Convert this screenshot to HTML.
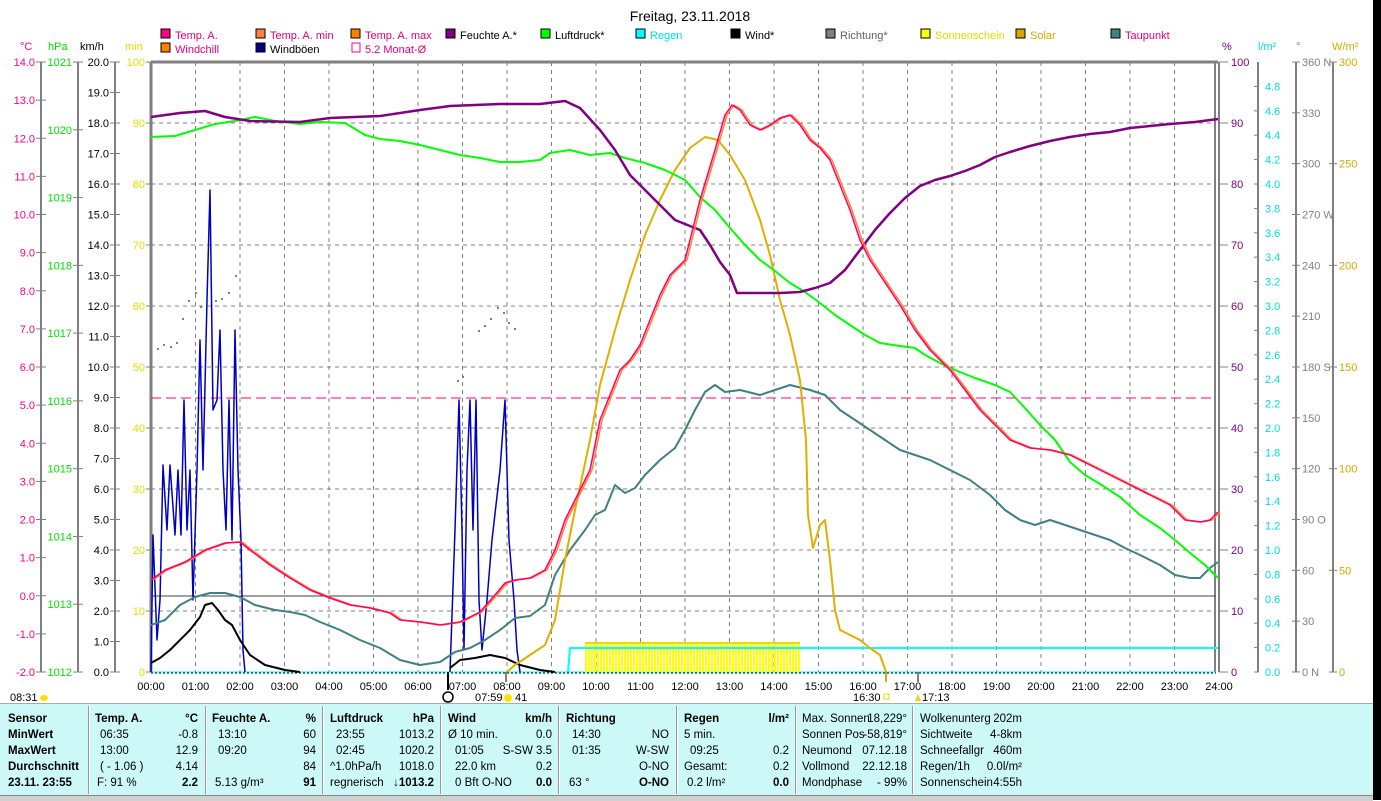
<!DOCTYPE html>
<html><head><meta charset="utf-8"><style>
body{margin:0;background:#fff;width:1381px;height:800px;overflow:hidden;position:relative;font-family:"Liberation Sans",sans-serif}
svg{position:absolute;left:0;top:0}
text{font-family:"Liberation Sans",sans-serif;font-size:11px}
#tbl{position:absolute;left:0;top:703px;width:1373px;height:92px;background:#ccf8f8;border-top:1px solid #aaa}
#tbl div{position:absolute;font-size:11.5px;line-height:16px;white-space:pre}
.b{font-weight:bold}
.sep{position:absolute;top:2px;width:1px;height:88px;background:#999;border-right:1px solid #fff}
</style></head><body>
<svg id="s" width="1381" height="800" xmlns="http://www.w3.org/2000/svg"></svg>
<div id="tbl"></div>
<div style="position:absolute;left:1373px;top:0;width:8px;height:800px;background:#000"></div>
<div style="position:absolute;left:0;top:795px;width:1373px;height:5px;background:#d0d0d0;border-top:1px solid #888"></div>
<script>
const S=document.getElementById('s');let h='';
function T(x,y,t,c,a,extra){h+=`<text x="${x}" y="${y}" fill="${c||'#000'}" text-anchor="${a||'start'}" ${extra||''}>${t}</text>`}
function L(x1,y1,x2,y2,c,w,d){h+=`<line x1="${x1}" y1="${y1}" x2="${x2}" y2="${y2}" stroke="${c}" stroke-width="${w||1}" ${d?`stroke-dasharray="${d}"`:''}/>`}
function P(pts,c,w){h+=`<polyline fill="none" stroke="${c}" stroke-width="${w||2}" stroke-linejoin="round" points="${pts.map(p=>p.join(',')).join(' ')}"/>`}
T(690,21,'Freitag, 23.11.2018','#000','middle','style="font-size:14px"');
const lg=[[161,38,'Temp. A.','#ff0080','#e0007a'],[256,38,'Temp. A. min','#ff8040','#e0007a'],[351,38,'Temp. A. max','#ff8000','#e0007a'],[446,38,'Feuchte A.*','#800080','#000'],[541,38,'Luftdruck*','#00ff00','#000'],[636,38,'Regen','#00ffff','#00e0e0'],[731,38,'Wind*','#000','#000'],[826,38,'Richtung*','#808080','#606060'],[921,38,'Sonnenschein','#ffff00','#e0e000'],[1016,38,'Solar','#d4aa00','#d4aa00'],[1111,38,'Taupunkt','#408080','#e0007a'],[161,52,'Windchill','#ff8000','#e0007a'],[256,52,'Windböen','#000080','#000']];
lg.forEach(l=>{h+=`<rect x="${l[0]}" y="${l[1]-9}" width="9" height="9" fill="${l[3]}" stroke="#000"/>`;T(l[0]+14,l[1]+1,l[2],l[4])});
h+=`<rect x="352" y="43" width="8" height="9" fill="none" stroke="#ff0080"/>`;T(365,53,'5.2 Monat-Ø','#e0007a');
T(20,50,'°C','#ff0080');T(48,50,'hPa','#00e000');T(80,50,'km/h');T(125,50,'min','#e0e000');
T(1222,50,'%','#800080');T(1258,50,'l/m²','#00e0e0');T(1296,50,'°','#808080');T(1332,50,'W/m²','#d4aa00');
for(let i=1;i<24;i++){let x=151+i*44.5;L(x,62,x,672,'#808080',1,'4,4')}
for(let i=1;i<10;i++){let y=672-i*61;L(151,y,1216,y,'#808080',1,'4,4')}
L(41,62,41,672,'#808080',2);L(78,62,78,672,'#808080',2);L(115,62,115,672,'#808080',2);
for(let i=0;i<=16;i++){let y=62+i*38.125;L(36,y,46,y,'#808080');T(35,y+4,(14-i).toFixed(1),'#ff0080','end')}
for(let i=0;i<=9;i++){let y=62+i*67.78;L(73,y,83,y,'#808080');T(72,y+4,1021-i,'#00e000','end')}
for(let i=0;i<=20;i++){let y=62+i*30.5;L(110,y,120,y,'#808080');T(109,y+4,(20-i).toFixed(1),'#000','end')}
for(let i=0;i<=10;i++){let y=62+i*61;L(146,y,151,y,'#808080');T(145,y+4,100-i*10,'#e0e000','end')}
for(let i=0;i<=10;i++){let y=62+i*61;L(1219,y,1228,y,'#808080');T(1231,y+4,100-i*10,'#800080')}
L(1258,62,1258,672,'#808080',2);for(let i=0;i<=24;i++){let y=672-i*24.4;L(1254,y,1259,y,'#808080');T(1265,y+4,(i*0.2).toFixed(1),'#00e0e0')}
L(1296,62,1296,672,'#808080',2);const dl={360:' N',270:' W',180:' S',90:' O',0:' N'};for(let i=0;i<=12;i++){let v=360-i*30,y=62+i*50.83;L(1292,y,1300,y,'#808080');T(1302,y+4,v+(dl[v]||''),'#808080')}
L(1333,62,1333,672,'#808080',2);for(let i=0;i<=6;i++){let y=62+i*101.67;L(1329,y,1337,y,'#808080');T(1339,y+4,300-i*50,'#d4aa00')}
L(151,62,1218,62,'#808080',3);L(151,62,151,672,'#808080',3);L(1215,62,1215,672,'#808080',2);L(1219,62,1219,672,'#808080',2);
L(151,672,1216,672,'#00ffff',1);L(151,673,1216,673,'#000',1,'2,2');
L(151,596,1216,596,'#404040',1);L(151,398,1216,398,'#ff0080',1,'10,5');
for(let x=586;x<=800;x+=3)L(x,643,x,672,'#ffff00',2);L(585,643,800,643,'#e0e000',2);
P([[568,672],[570,648],[1218,648]],'#00ffff',2);
[[157,348],[163,344],[170,346],[176,342],[182,318],[188,300],[195,292],[200,306],[215,300],[221,298],[228,292],[235,275],[457,380],[462,376],[478,330],[484,325],[490,318],[497,307],[503,312],[508,322],[514,328]].forEach(p=>h+=`<rect x="${p[0]}" y="${p[1]}" width="2" height="2" fill="#808080"/>`);
P([[151,672],[153,535],[157,640],[160,600],[163,465],[167,530],[170,465],[175,535],[178,470],[181,535],[184,400],[187,530],[190,470],[193,600],[197,470],[200,340],[203,470],[207,300],[210,190],[213,410],[217,400],[220,330],[223,470],[226,530],[229,400],[232,540],[235,330],[238,470],[241,540],[243,650],[245,672]],'#0000c0',1.5);
P([[450,672],[455,530],[459,400],[462,530],[464,650],[467,470],[470,400],[473,530],[476,400],[479,600],[482,650],[487,600],[492,540],[500,470],[505,400],[509,540],[514,600],[517,650],[520,672]],'#0000c0',1.5);
P([[151,663],[160,658],[170,650],[180,640],[190,630],[200,617],[205,605],[212,603],[218,610],[225,620],[232,625],[240,640],[250,655],[265,665],[285,670],[300,672]],'#000',2);
P([[450,668],[460,660],[475,658],[490,655],[505,658],[520,665],[540,670],[555,672]],'#000',2);
P([[151,625],[165,620],[180,605],[195,597],[210,593],[225,593],[240,597],[255,605],[275,610],[290,612],[305,615],[320,622],[340,630],[360,640],[380,648],[400,660],[420,665],[440,662],[455,652],[470,648],[485,640],[500,630],[515,618],[530,616],[545,605],[555,575],[570,550],[585,530],[595,515],[605,510],[615,485],[625,493],[635,488],[645,475],[660,460],[675,448],[685,430],[695,410],[705,392],[715,385],[725,392],[740,390],[760,395],[775,390],[790,385],[810,390],[825,395],[840,410],[855,420],[870,430],[885,440],[900,450],[915,455],[930,460],[950,470],[970,480],[990,495],[1005,510],[1020,520],[1035,525],[1050,520],[1065,525],[1080,530],[1095,535],[1110,540],[1125,548],[1140,555],[1160,565],[1175,575],[1190,578],[1200,578],[1210,568],[1218,562]],'#408080',2);
P([[507,672],[515,665],[530,655],[545,645],[555,620],[565,560],[575,510],[590,440],[600,385],[615,330],[630,280],[645,235],[660,200],[675,170],[690,148],[705,137],[718,140],[730,155],[745,180],[760,220],[770,255],[780,300],[790,335],[800,380],[806,440],[808,515],[813,548],[820,525],[825,520],[830,560],[835,610],[840,630],[850,635],[860,640],[870,648],[880,655],[886,672]],'#e0b000',2);
P([[151,137],[175,136],[195,130],[215,124],[235,121],[255,117],[275,121],[300,124],[320,122],[345,123],[365,135],[380,139],[400,141],[420,145],[440,150],[460,155],[480,158],[500,162],[520,162],[540,160],[550,153],[570,150],[590,155],[610,153],[625,158],[645,163],[665,170],[685,180],[700,197],[715,210],[730,228],[745,245],[760,260],[775,271],[790,283],[805,292],[820,303],[835,315],[850,325],[865,335],[880,343],[900,346],[915,348],[925,355],[940,363],[955,370],[975,378],[995,385],[1010,392],[1025,408],[1040,425],[1055,440],[1070,462],[1085,475],[1100,484],[1120,497],[1140,515],[1160,528],[1175,540],[1190,553],[1205,565],[1218,578]],'#00ff00',2);
P([[151,117],[180,113],[205,111],[225,117],[250,121],[300,122],[330,118],[380,116],[420,110],[450,106],[500,104],[540,104],[565,101],[580,108],[600,130],[615,150],[630,175],[645,190],[660,205],[675,220],[690,226],[700,230],[710,245],[720,262],[730,275],[737,293],[760,293],[780,293],[800,292],[815,288],[830,283],[845,270],[860,250],[875,230],[890,213],[905,198],[920,186],[935,180],[950,176],[965,171],[980,165],[995,157],[1010,152],[1030,146],[1050,141],[1070,137],[1090,134],[1110,132],[1130,128],[1150,126],[1170,124],[1195,122],[1218,119]],'#800080',2.5);
const tp=[[151,580],[165,570],[185,562],[205,550],[225,543],[240,542],[250,550],[270,565],[290,578],[310,590],[330,598],[350,605],[370,608],[390,613],[400,620],[420,622],[440,625],[460,622],[480,612],[495,595],[505,583],[515,580],[530,578],[545,570],[555,550],[565,520],[575,500],[590,470],[600,420],[610,395],[620,370],[630,360],[640,345],[650,320],[660,295],[670,275],[685,260],[690,240],[700,200],[715,150],[725,115],[732,105],[740,110],[750,125],[760,130],[770,125],[780,118],[790,115],[800,125],[810,140],[820,148],[830,160],[840,185],[850,210],[860,240],[870,260],[880,275],[890,290],[900,305],[915,330],[930,350],[950,370],[965,390],[980,410],[995,425],[1010,440],[1030,448],[1050,450],[1070,455],[1090,465],[1110,475],[1130,485],[1150,495],[1170,505],[1185,520],[1200,522],[1210,520],[1218,512]];
P(tp.map(p=>[p[0]+2,p[1]]),'#ff8040',1.5);P(tp,'#ff0060',1.5);
for(let i=0;i<=24;i++){T(151+i*44.5,690,(i<10?'0':'')+i+':00','#000','middle')}
L(448,672,448,690,'#000',2);L(506,672,506,682,'#808080',2);L(886,672,886,682,'#d4aa00',2);L(918,672,918,682,'#808080',2);
T(10,701,'08:31');h+=`<ellipse cx="44" cy="698" rx="4" ry="3" fill="#ffe000"/>`;
h+=`<circle cx="448" cy="697" r="5" fill="none" stroke="#000" stroke-width="1.5"/>`;T(475,701,'07:59');h+=`<circle cx="508" cy="698" r="4" fill="#ffe000"/>`;T(515,701,'41');
T(853,701,'16:30');h+=`<rect x="884" y="694" width="5" height="5" fill="none" stroke="#e0e000"/>`;T(922,701,'17:13');h+=`<path d="M915 701 L918 694 L921 701Z" fill="#ffd000"/>`;
S.innerHTML=h;
const tb=document.getElementById('tbl');let q='';
function D(x,y,t,c){q+=`<div class="${c||''}" style="left:${x}px;top:${y}px">${t}</div>`}
function R(x,y,t,c){q+=`<div class="${c||''}" style="right:${1373-x}px;top:${y}px">${t}</div>`}
[88,205,322,440,558,676,795,912].forEach(x=>q+=`<div class="sep" style="left:${x}px"></div>`);
const ys=[7,23,39,55,71];
['Sensor','MinWert','MaxWert','Durchschnitt','23.11. 23:55'].forEach((t,i)=>D(8,ys[i],t,'b'));
D(95,7,'Temp. A.','b');R(198,7,'°C','b');D(100,23,'06:35');R(198,23,'-0.8');D(100,39,'13:00');R(198,39,'12.9');D(100,55,'( - 1.06 )');R(198,55,'4.14');D(97,71,'F: 91 %');R(198,71,'2.2','b');
D(212,7,'Feuchte A.','b');R(316,7,'%','b');D(218,23,'13:10');R(316,23,'60');D(218,39,'09:20');R(316,39,'94');R(316,55,'84');D(215,71,'5.13 g/m³');R(316,71,'91','b');
D(330,7,'Luftdruck','b');R(434,7,'hPa','b');D(336,23,'23:55');R(434,23,'1013.2');D(336,39,'02:45');R(434,39,'1020.2');D(330,55,'^1.0hPa/h');R(434,55,'1018.0');D(330,71,'regnerisch');R(434,71,'↓1013.2','b');
D(448,7,'Wind','b');R(552,7,'km/h','b');D(448,23,'Ø 10 min.');R(552,23,'0.0');D(455,39,'01:05');R(552,39,'S-SW 3.5');D(455,55,'22.0 km');R(552,55,'0.2');D(455,71,'0 Bft O-NO');R(552,71,'0.0','b');
D(566,7,'Richtung','b');D(572,23,'14:30');R(669,23,'NO');D(572,39,'01:35');R(669,39,'W-SW');R(669,55,'O-NO');D(569,71,'63 °');R(669,71,'O-NO','b');
D(684,7,'Regen','b');R(789,7,'l/m²','b');D(684,23,'5 min.');D(690,39,'09:25');R(789,39,'0.2');D(684,55,'Gesamt:');R(789,55,'0.2');D(687,71,'0.2 l/m²');R(789,71,'0.0','b');
D(802,7,'Max. Sonnen');R(907,7,'18,229°');D(802,23,'Sonnen Pos');R(907,23,'-58,819°');D(802,39,'Neumond');R(907,39,'07.12.18');D(802,55,'Vollmond');R(907,55,'22.12.18');D(802,71,'Mondphase');R(907,71,'- 99%');
D(920,7,'Wolkenunterg');R(1022,7,'202m');D(920,23,'Sichtweite');R(1022,23,'4-8km');D(920,39,'Schneefallgr');R(1022,39,'460m');D(920,55,'Regen/1h');R(1022,55,'0.0l/m²');D(920,71,'Sonnenschein');R(1022,71,'4:55h');
tb.innerHTML=q;
</script>
</body></html>
